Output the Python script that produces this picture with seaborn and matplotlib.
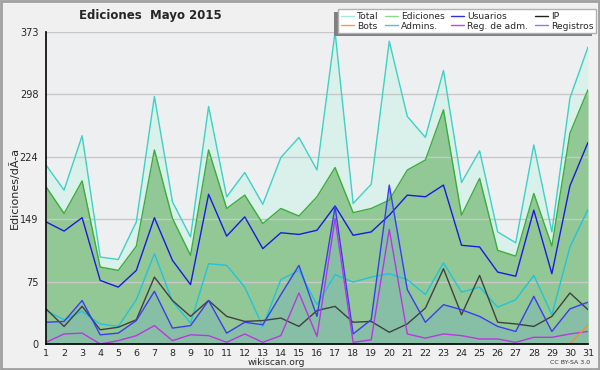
import matplotlib
matplotlib.use("Agg")
import matplotlib.pyplot as plt
import seaborn as sns
import pandas as pd
import numpy as np
from matplotlib.patches import Rectangle
from matplotlib.lines import Line2D

dias = list(range(1, 32))
total = [214, 184, 249, 104, 101, 146, 296, 170, 128, 284, 176, 205, 167, 223, 247, 208,
         373, 168, 191, 362, 272, 247, 327, 193, 231, 134, 121, 238, 134, 294, 355]
ediciones = [188, 156, 195, 92, 88, 117, 232, 150, 106, 232, 162, 178, 144, 162, 153, 176,
             211, 157, 162, 172, 208, 220, 280, 154, 198, 112, 105, 180, 117, 252, 304]
usuarios = [146, 135, 151, 76, 68, 88, 151, 100, 71, 179, 129, 152, 114, 133, 131, 136,
            165, 130, 134, 154, 178, 176, 190, 118, 116, 86, 81, 160, 84, 189, 241]
ip = [42, 21, 45, 17, 20, 29, 80, 52, 33, 52, 33, 27, 28, 31, 21, 40,
      45, 26, 27, 14, 24, 43, 90, 35, 82, 26, 24, 21, 33, 61, 41]
bots = [0] * 30 + [23]
admins = [40, 29, 39, 24, 21, 53, 108, 51, 25, 96, 94, 68, 21, 77, 88, 47,
          83, 74, 80, 84, 77, 59, 97, 62, 68, 44, 53, 82, 35, 116, 161]
reg_adm = [2, 12, 13, 0, 4, 10, 22, 4, 11, 10, 2, 12, 2, 10, 61, 9,
           150, 2, 5, 137, 12, 7, 12, 10, 6, 6, 2, 8, 8, 12, 15]
registros = [26, 27, 52, 11, 13, 28, 63, 19, 22, 52, 13, 26, 23, 59, 94, 33,
             164, 12, 29, 190, 65, 26, 47, 41, 33, 21, 15, 57, 15, 42, 50]

df = pd.DataFrame({"dia": dias, "Total": total, "Ediciones": ediciones, "Usuarios": usuarios,
                   "IP": ip, "Bots": bots, "Admins.": admins, "Reg. de adm.": reg_adm,
                   "Registros": registros})

sns.set_style("white")
plt.rcParams['font.family'] = ['DejaVu Sans']

fig = plt.figure(figsize=(6, 3.7), dpi=100, facecolor="#f0f0f0")
ax = fig.add_axes([46/600, 1-344/370, (588-46)/600, (344-32)/370])
ax.set_facecolor("#eeeff1")

ymax = 373
# fills
ax.fill_between(df["dia"], 0, df["Total"], color="#daf0ea", zorder=1, lw=0)
ax.fill_between(df["dia"], 0, df["Ediciones"], color="#92c896", zorder=2, lw=0)
ax.fill_between(df["dia"], 0, df["Registros"], color="#86bfa6", zorder=3, lw=0)

colors = {"Total": "#3cd2c4", "Ediciones": "#3aae3a", "Usuarios": "#1a1ae0", "IP": "#404040",
          "Bots": "#f09030", "Admins.": "#20c4dc", "Reg. de adm.": "#b838e0",
          "Registros": "#3c3cf0"}
order = ["Total", "Ediciones", "Admins.", "IP", "Usuarios", "Registros", "Reg. de adm.", "Bots"]
for i, name in enumerate(order):
    sns.lineplot(data=df, x="dia", y=name, ax=ax, color=colors[name], lw=1.0, zorder=5 + i,
                 legend=False)

ax.set_xlim(1, 31)
ax.set_ylim(0, ymax)
majors = [ymax * k / 5 for k in range(6)]
ax.set_yticks(majors)
ax.set_yticklabels([str(int(round(v))) for v in majors])
ax.set_yticks([ymax * k / 20 for k in range(21)], minor=True)
ax.set_xticks(dias)
ax.set_xticklabels([str(d) for d in dias])
ax.tick_params(axis="y", which="major", labelsize=7, length=4, width=0.8, color="black",
               direction="out", pad=1.5)
ax.tick_params(axis="x", which="major", labelsize=6.8, length=3, width=0.8, color="black",
               direction="out", pad=0.5)
ax.tick_params(axis="y", which="minor", length=3, width=0.8, color="black", direction="out")
ax.tick_params(axis="x", which="minor", length=0)
ax.yaxis.grid(True, which="major", color="#c8c8c8", lw=1, zorder=4)
ax.set_axisbelow(False)
for g in ax.get_ygridlines():
    g.set_zorder(4)
for s in ["top", "right"]:
    ax.spines[s].set_visible(False)
for s in ["left", "bottom"]:
    ax.spines[s].set_color("black")
    ax.spines[s].set_linewidth(1.2)
    ax.spines[s].set_zorder(20)
ax.set_xlabel("")
ax.set_ylabel("Ediciones/dÃ-a", fontsize=8)
ax.yaxis.set_label_coords((20 - 46) / 542, 0.5)

fig.text(276/600, 1-362.5/370, "wikiscan.org", ha="center", va="center", fontsize=6.6)
fig.text(150/600, 1-15/370, "Ediciones  Mayo 2015", ha="center", va="center",
         fontsize=8.5, fontweight="bold")
fig.text(590/600, 1-363/370, "CC BY-SA 3.0", ha="right", va="center", fontsize=4.5,
         color="#333333")

leg_colors = {"Total": "#a8e8e4", "Ediciones": "#8cd88c", "Usuarios": "#3030e0", "IP": "#202020",
              "Bots": "#f0a040", "Admins.": "#40c8e0", "Reg. de adm.": "#d040e0",
              "Registros": "#8080f0"}
leg_order = ["Total", "Bots", "Ediciones", "Admins.", "Usuarios", "Reg. de adm.", "IP", "Registros"]
handles = [Line2D([0], [0], color=leg_colors[n], lw=1) for n in leg_order]
leg = fig.legend(handles, leg_order, loc="upper right", bbox_to_anchor=(596/600, 1-9/370),
                 bbox_transform=fig.transFigure, ncol=4, fontsize=6.6, frameon=True,
                 fancybox=False, edgecolor="#b0b0b0", facecolor="white", framealpha=1,
                 handlelength=1.4, handletextpad=0.35, columnspacing=0.7, labelspacing=0.1,
                 borderpad=0.3, borderaxespad=0)
leg.set_zorder(30)
fig.canvas.draw()
bb = leg.get_window_extent().transformed(fig.transFigure.inverted())
fig.patches.append(Rectangle((bb.x0 - 4/600, bb.y0 - 3/370), bb.width, bb.height,
                             transform=fig.transFigure, facecolor="#808080", edgecolor="none",
                             zorder=25))
fig.patches.append(Rectangle((0.002, 0.003), 0.996, 0.994, transform=fig.transFigure,
                             facecolor="none", edgecolor="#a0a0a0", lw=2, zorder=40))

fig.savefig("out.png", dpi=100, facecolor=fig.get_facecolor())
